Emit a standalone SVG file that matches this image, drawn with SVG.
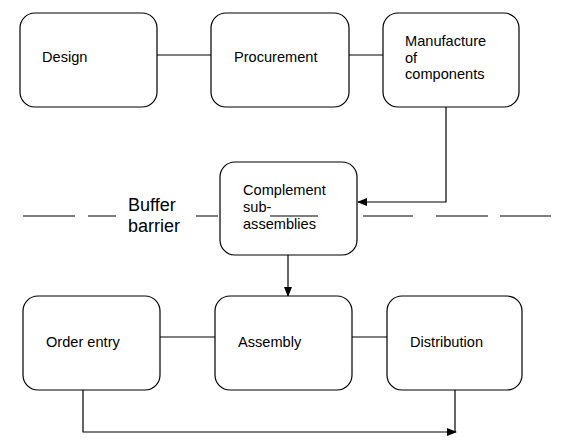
<svg xmlns="http://www.w3.org/2000/svg" width="569" height="445" viewBox="0 0 569 445">
<style>
.box{fill:#fff;stroke:#000;stroke-width:1.2}
.ln{fill:none;stroke:#000;stroke-width:1.2}
text{font-family:"Liberation Sans",Arial,sans-serif;font-size:14.6px;fill:#000}
.big{font-size:18px}
</style>
<defs>
<marker id="ah" markerWidth="10" markerHeight="8" refX="9" refY="4" orient="auto" markerUnits="userSpaceOnUse">
<path d="M0,0 L10,4 L0,8 Z" fill="#000"/>
</marker>
</defs>
<rect width="569" height="445" fill="#fff"/>
<g id="connectors">
<path class="ln" d="M157,55 H211"/>
<path class="ln" d="M349,55 H383"/>
<path class="ln" d="M446,107 V202 H358" marker-end="url(#ah)"/>
<path class="ln" d="M288,255 V296" marker-end="url(#ah)"/>
<path class="ln" d="M160,337 H215"/>
<path class="ln" d="M352,337 H387"/>
<path class="ln" d="M455,390 V432"/>
<path class="ln" d="M83,390 V432 H456" marker-end="url(#ah)"/>
</g>
<g id="barrier">
<path class="ln" d="M23,216 H75 M88,216 H116 M196,216 H218 M363,216 H413 M436,216 H488 M500,216 H551"/>
<text class="big" x="128" y="211">Buffer</text>
<text class="big" x="128" y="232">barrier</text>
</g>
<g id="design"><rect class="box" x="20" y="13" width="137" height="94" rx="15"/><text x="42" y="62">Design</text></g>
<g id="procurement"><rect class="box" x="211" y="13" width="138" height="94" rx="15"/><text x="234" y="62">Procurement</text></g>
<g id="manufacture"><rect class="box" x="383" y="13" width="136" height="94" rx="15"/><text x="405" y="46">Manufacture</text><text x="405" y="63">of</text><text x="405" y="79">components</text></g>
<g id="complement"><rect class="box" x="220" y="162" width="137" height="93" rx="15"/><text x="243" y="195">Complement</text><text x="243" y="212">sub-</text><path class="ln" d="M270,216 H318"/><text x="243" y="229">assemblies</text></g>
<g id="order-entry"><rect class="box" x="23" y="296" width="137" height="94" rx="15"/><text x="46" y="347">Order entry</text></g>
<g id="assembly"><rect class="box" x="215" y="296" width="137" height="94" rx="15"/><text x="238" y="347">Assembly</text></g>
<g id="distribution"><rect class="box" x="387" y="296" width="135" height="94" rx="15"/><text x="410" y="347">Distribution</text></g>
</svg>
